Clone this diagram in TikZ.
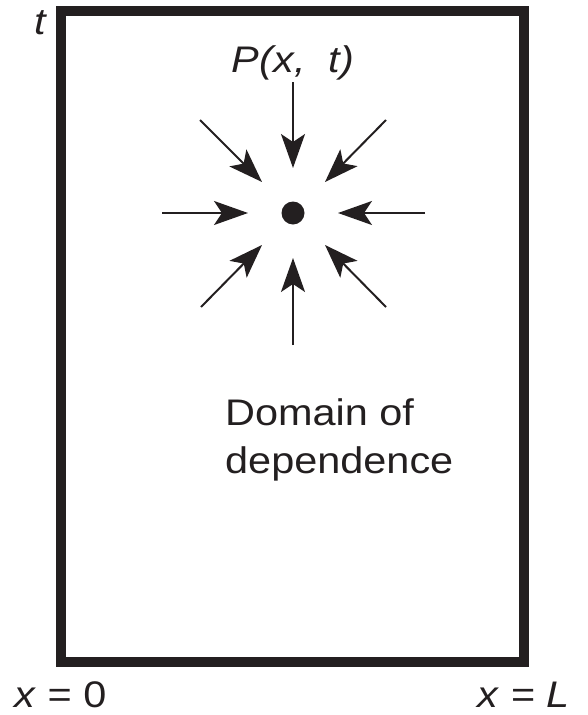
\documentclass[tikz,border=0pt]{standalone}
\usepackage{fontspec}
\setmainfont{Liberation Sans}[FakeStretch=1.12]
\usetikzlibrary{arrows.meta}
\definecolor{ink}{HTML}{231F20}
\tikzset{
  frame/.style={draw=ink, line width=10pt, line join=miter},
  inarrow/.style={draw=ink, line width=2pt, -{Stealth[length=34pt,width=24pt,inset=8pt]}},
  lbl/.style={inner sep=0pt, text=ink, font=\fontsize{37}{44}\selectfont}
}
\begin{document}
\begin{tikzpicture}[x=1pt,y=-1pt]
\useasboundingbox (0,0) rectangle (588,715);
\draw[frame] (61,11) rectangle (523.5,662);
% centre point
\coordinate (P) at (293,213);
\fill[ink] (P) circle (11.5);
% arrow ends
\coordinate (nS) at (293,82);  \coordinate (nE) at (293,168);
\coordinate (sS) at (293,345); \coordinate (sE) at (293,258);
\coordinate (wS) at (162,213); \coordinate (wE) at (248,213);
\coordinate (eS) at (425,213); \coordinate (eE) at (338,213);
\coordinate (nwS) at (200,120); \coordinate (nwE) at (262,182);
\coordinate (neS) at (386,120); \coordinate (neE) at (325,182);
\coordinate (swS) at (201,307); \coordinate (swE) at (262,245);
\coordinate (seS) at (386,307); \coordinate (seE) at (325,245);
\foreach \d in {n,s,w,e,nw,ne,sw,se}{
  \draw[inarrow] (\d S) -- (\d E);
}
% labels
\node[lbl, anchor=base] (ptlabel) at (293,72) {\textit{P(x,\ \ t)}};
\node[lbl, anchor=base west] (dom1) at (225,425) {Domain of};
\node[lbl, anchor=base west] (dom2) at (225,473) {dependence};
\node[lbl, anchor=base west] (tlabel) at (34,34) {\textit{t}};
\node[lbl, anchor=base west] (x0) at (14,707) {\textit{x} = 0};
\node[lbl, anchor=base east] (xL) at (570,707) {\textit{x} = \textit{L}};
\end{tikzpicture}
\end{document}
